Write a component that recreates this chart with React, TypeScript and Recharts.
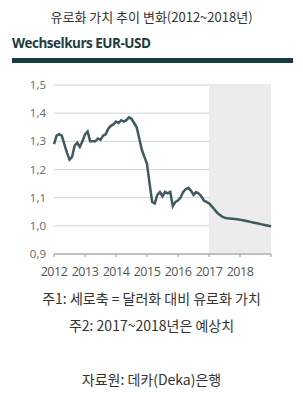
import { CartesianGrid, Line, LineChart, ReferenceArea, XAxis, YAxis } from "recharts";

// monthly EUR-USD, Jan 2012 .. Jan 2019 (2017~ = forecast)
const rates = [
  1.29, 1.32, 1.325, 1.32, 1.29, 1.26, 1.235, 1.245, 1.285, 1.295, 1.28, 1.3,
  1.325, 1.335, 1.3, 1.3, 1.3, 1.31, 1.305, 1.32, 1.325, 1.345, 1.355, 1.36,
  1.37, 1.365, 1.375, 1.37, 1.375, 1.385, 1.38, 1.365, 1.35, 1.31, 1.27, 1.245,
  1.22, 1.15, 1.085, 1.08, 1.11, 1.12, 1.105, 1.12, 1.115, 1.12, 1.07, 1.085,
  1.09, 1.1, 1.12, 1.13, 1.135, 1.125, 1.11, 1.12, 1.115, 1.105, 1.09, 1.085,
  1.08, 1.07, 1.06, 1.048, 1.04, 1.033, 1.029, 1.027, 1.026, 1.025, 1.024, 1.023,
  1.022, 1.02, 1.018, 1.016, 1.014, 1.012, 1.01, 1.008, 1.006, 1.004, 1.002, 1.0,
  0.998,
];
const startYear = 2012;
const yearTicks = [2012, 2013, 2014, 2015, 2016, 2017, 2018, 2019];
const valueTicks = [0.9, 1.0, 1.1, 1.2, 1.3, 1.4, 1.5];
const forecastFrom = 2017;

const data = rates.map((v, i) => ({ t: startYear + i / 12, v }));

const kr = '"Noto Sans CJK KR", "Noto Sans", sans-serif';
const latin = '"Open Sans", "Noto Sans", sans-serif';

export default function App() {
  return (
    <div
      style={{
        position: "absolute",
        left: 0,
        top: 0,
        width: 303,
        height: 394,
        background: "#fff",
        fontFamily: kr,
        color: "#333",
      }}
    >
      <div style={{ position: "absolute", top: 7, width: 303, textAlign: "center", fontSize: 13 }}>
        유로화 가치 추이 변화(2012~2018년)
      </div>
      <div
        style={{
          position: "absolute",
          top: 34,
          left: 12,
          fontFamily: latin,
          fontWeight: 700,
          fontSize: 13.5,
          color: "#1f3b44",
          letterSpacing: -0.5,
        }}
      >
        Wechselkurs EUR-USD
      </div>
      <div style={{ position: "absolute", top: 58, left: 12, width: 281, height: 4.5, background: "#173a45" }} />
      <div style={{ position: "absolute", top: 75, left: 0 }}>
        <LineChart width={303} height={210} data={data} margin={{ top: 10, right: 32, bottom: 0, left: 0 }}>
          <ReferenceArea x1={forecastFrom} x2={2019} y1={0.9} y2={1.5} fill="#ececec" fillOpacity={1} stroke="none" />
          <CartesianGrid vertical={false} stroke="#d4d4d4" />
          <XAxis
            dataKey="t"
            type="number"
            domain={[2012, 2019]}
            ticks={yearTicks}
            tickFormatter={(y: number) => (y === 2019 ? "" : String(y))}
            stroke="#999"
            tickSize={3}
            tickMargin={10}
            height={31}
            tick={{ fill: "#555", fontSize: 12.5, fontFamily: latin, letterSpacing: -0.5 }}
          />
          <YAxis
            type="number"
            domain={[0.9, 1.5]}
            ticks={valueTicks}
            tickFormatter={(v: number) => v.toFixed(1).replace(".", ",")}
            axisLine={false}
            tickLine={false}
            width={54}
            tick={{ fill: "#666", fontSize: 11.5, fontFamily: latin }}
          />
          <Line
            type="linear"
            dataKey="v"
            stroke="#3e5a5e"
            strokeWidth={2.5}
            dot={false}
            isAnimationActive={false}
          />
        </LineChart>
      </div>
      <div style={{ position: "absolute", top: 288, width: 303, textAlign: "center", fontSize: 14 }}>
        주1: 세로축 = 달러화 대비 유로화 가치
      </div>
      <div style={{ position: "absolute", top: 315, width: 303, textAlign: "center", fontSize: 14 }}>
        주2: 2017~2018년은 예상치
      </div>
      <div style={{ position: "absolute", top: 369, width: 303, textAlign: "center", fontSize: 14 }}>
        자료원: 데카(Deka)은행
      </div>
    </div>
  );
}
